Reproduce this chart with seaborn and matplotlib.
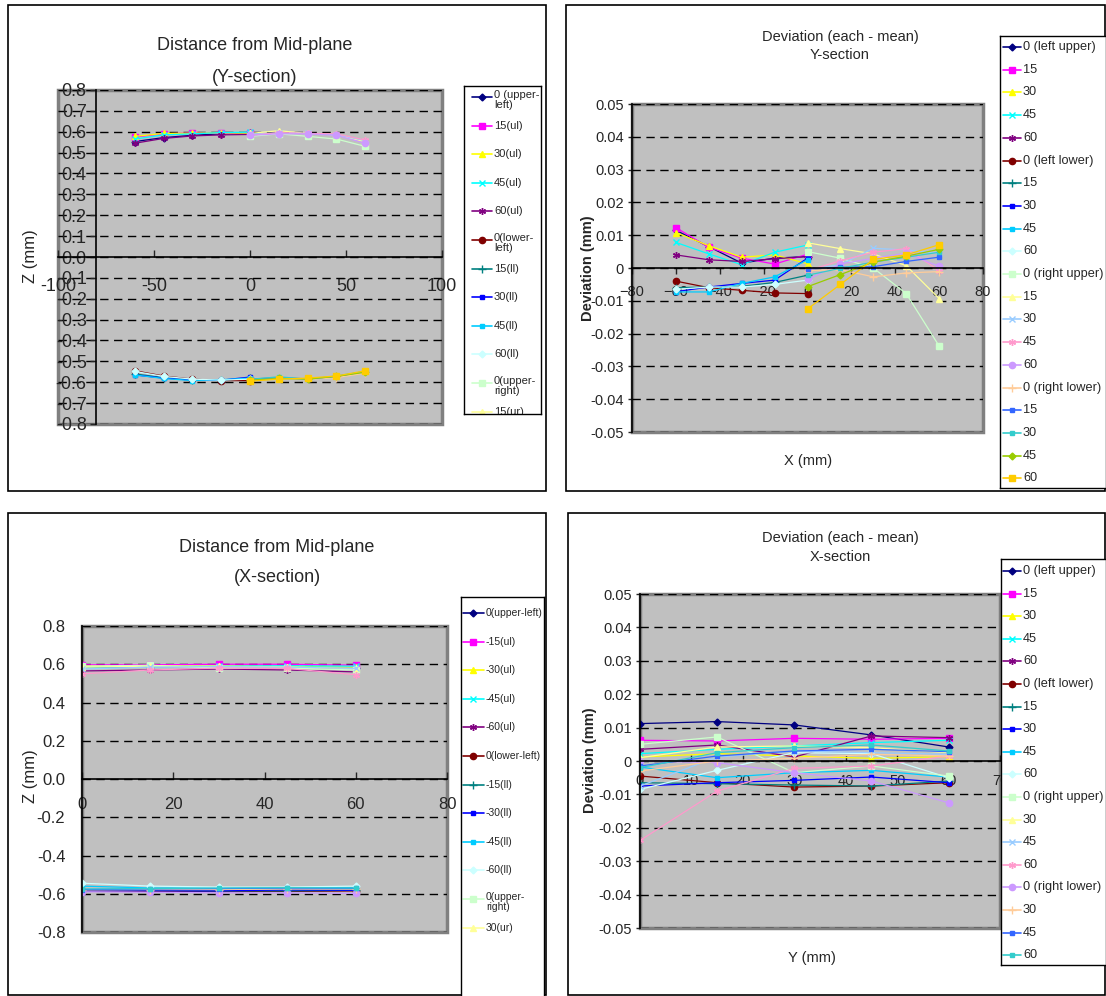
import matplotlib
matplotlib.use("Agg")
import matplotlib.pyplot as plt
from matplotlib.patches import Rectangle
from matplotlib.ticker import FuncFormatter
import seaborn as sns

sns.set_style("white")
plt.rcParams['font.family'] = ['Liberation Sans', 'DejaVu Sans']

W, H = 1106, 996

# excel default series colours / markers
PAL = ['#000080', '#FF00FF', '#FFFF00', '#00FFFF', '#800080', '#800000', '#008080',
       '#0000FF', '#00CCFF', '#CCFFFF', '#CCFFCC', '#FFFF99', '#99CCFF', '#FF99CC',
       '#CC99FF', '#FFCC99', '#3366FF', '#33CCCC', '#99CC00', '#FFCC00']
MARK = ['D', 's', '^', 'x', (6, 2, 0), 'o', '+', 's', 's', 'D',
        's', '^', 'x', (6, 2, 0), 'o', '+', 's', 's', 'D', 's']
MS = [3.5, 5, 5, 5, 5, 4.5, 6, 3, 3, 3.5, 5, 5, 5, 5, 4.5, 6, 3, 3, 3.5, 5]

# ---- Y-section : distance from mid-plane (mm)
X_LEFT = [-60, -45, -30, -15, 0]
X_RIGHT = [0, 15, 30, 45, 60]
dist_y_ul = [[0.553, 0.572, 0.583, 0.590, 0.594],
             [0.575, 0.590, 0.595, 0.592, 0.596],
             [0.578, 0.592, 0.593, 0.595, 0.593],
             [0.565, 0.585, 0.590, 0.596, 0.598],
             [0.545, 0.568, 0.580, 0.585, 0.587]]
dist_y_ll = [[-0.545, -0.570, -0.585, -0.592, -0.592],
             [-0.560, -0.578, -0.588, -0.590, -0.582],
             [-0.565, -0.580, -0.590, -0.590, -0.575],
             [-0.565, -0.582, -0.592, -0.588, -0.580],
             [-0.548, -0.572, -0.585, -0.590, -0.585]]
dist_y_ur = [[0.578, 0.590, 0.578, 0.565, 0.530],
             [0.592, 0.605, 0.592, 0.585, 0.552],
             [0.588, 0.595, 0.592, 0.585, 0.558],
             [0.583, 0.596, 0.592, 0.590, 0.560],
             [0.583, 0.590, 0.590, 0.583, 0.545]]
dist_y_lr = [[-0.585, -0.580, -0.585, -0.578, -0.556],
             [-0.585, -0.578, -0.584, -0.572, -0.548],
             [-0.586, -0.574, -0.585, -0.570, -0.548],
             [-0.590, -0.582, -0.585, -0.572, -0.552],
             [-0.595, -0.585, -0.580, -0.570, -0.545]]

# ---- Y-section : deviation (each - mean)
dev_y_lu = [[0.0115, 0.0065, 0.0015, 0.0030, 0.0035],
            [0.0123, 0.0063, 0.0030, 0.0012, 0.0042],
            [0.0108, 0.0068, 0.0033, 0.0040, 0.0013],
            [0.0078, 0.0043, 0.0010, 0.0048, 0.0070],
            [0.0040, 0.0025, 0.0020, 0.0028, 0.0035]]
dev_y_ll = [[-0.0040, -0.0060, -0.0068, -0.0076, -0.0078],
            [-0.0060, -0.0058, -0.0056, -0.0044, -0.0022],
            [-0.0072, -0.0058, -0.0047, -0.0037, 0.0030],
            [-0.0073, -0.0073, -0.0047, -0.0027, 0.0025],
            [-0.0065, -0.0058, -0.0058, -0.0050, -0.0037]]
dev_y_ru = [[0.0050, 0.0030, 0.0000, -0.0078, -0.0238],
            [0.0077, 0.0059, 0.0043, 0.0007, -0.0093],
            [-0.0005, 0.0010, 0.0060, 0.0055, 0.0045],
            [-0.0008, 0.0022, 0.0048, 0.0059, -0.0008],
            [-0.0035, 0.0012, 0.0030, 0.0045, 0.0005]]
dev_y_rl = [[-0.0008, -0.0005, -0.0027, -0.0015, -0.0011],
            [-0.0003, 0.0002, 0.0004, 0.0020, 0.0033],
            [-0.0022, -0.0001, 0.0018, 0.0033, 0.0048],
            [-0.0057, -0.0020, 0.0018, 0.0036, 0.0057],
            [-0.0125, -0.0050, 0.0026, 0.0040, 0.0071]]

# ---- X-section : distance from mid-plane (mm)
X_SEC = [0, 15, 30, 45, 60]
dist_x_ul = [[0.585, 0.588, 0.590, 0.585, 0.580],
             [0.597, 0.597, 0.600, 0.600, 0.595],
             [0.590, 0.590, 0.592, 0.588, 0.585],
             [0.585, 0.588, 0.590, 0.592, 0.590],
             [0.565, 0.570, 0.575, 0.570, 0.560]]
dist_x_ll = [[-0.585, -0.588, -0.590, -0.588, -0.585],
             [-0.580, -0.582, -0.585, -0.585, -0.582],
             [-0.585, -0.585, -0.585, -0.580, -0.582],
             [-0.560, -0.570, -0.570, -0.570, -0.568],
             [-0.545, -0.560, -0.565, -0.565, -0.560]]
dist_x_ur = [[0.590, 0.595, 0.580, 0.580, 0.570],
             [0.585, 0.590, 0.590, 0.585, 0.578],
             [0.575, 0.585, 0.588, 0.585, 0.578],
             [0.550, 0.570, 0.580, 0.578, 0.545]]
dist_x_lr = [[-0.590, -0.592, -0.595, -0.595, -0.598],
             [-0.580, -0.578, -0.578, -0.575, -0.575],
             [-0.578, -0.575, -0.573, -0.570, -0.572],
             [-0.575, -0.573, -0.570, -0.568, -0.570]]

# ---- X-section : deviation (each - mean)
dev_x_lu = [[0.0112, 0.0118, 0.0108, 0.0078, 0.0042],
            [0.0062, 0.0060, 0.0068, 0.0065, 0.0068],
            [0.0012, 0.0022, 0.0015, 0.0008, 0.0013],
            [0.0022, 0.0035, 0.0045, 0.0055, 0.0062],
            [0.0035, 0.0048, 0.0012, 0.0075, 0.0070]]
dev_x_ll = [[-0.0045, -0.0065, -0.0078, -0.0075, -0.0065],
            [-0.0065, -0.0068, -0.0072, -0.0075, -0.0060],
            [-0.0075, -0.0065, -0.0058, -0.0048, -0.0065],
            [-0.0018, -0.0050, -0.0035, -0.0028, -0.0048],
            [-0.0085, -0.0028, 0.0025, 0.0022, -0.0050]]
dev_x_ru = [[0.0050, 0.0072, -0.0035, -0.0015, -0.0045],
            [0.0010, 0.0042, 0.0045, 0.0040, 0.0025],
            [-0.0075, 0.0012, 0.0030, 0.0025, 0.0020],
            [-0.0238, -0.0090, -0.0022, -0.0015, 0.0015]]
dev_x_rl = [[0.0000, -0.0005, -0.0035, -0.0060, -0.0125],
            [-0.0030, 0.0000, 0.0008, 0.0020, 0.0015],
            [-0.0015, 0.0015, 0.0030, 0.0035, 0.0028],
            [-0.0020, 0.0025, 0.0040, 0.0048, 0.0030]]

leg1 = ["0 (upper-\nleft)", "15(ul)", "30(ul)", "45(ul)", "60(ul)",
        "0(lower-\nleft)", "15(ll)", "30(ll)", "45(ll)", "60(ll)",
        "0(upper-\nright)", "15(ur)"]
leg2 = ["0 (left upper)", "15", "30", "45", "60", "0 (left lower)", "15", "30", "45", "60",
        "0 (right upper)", "15", "30", "45", "60", "0 (right lower)", "15", "30", "45", "60"]
leg3 = ["0(upper-left)", "-15(ul)", "-30(ul)", "-45(ul)", "-60(ul)",
        "0(lower-left)", "-15(ll)", "-30(ll)", "-45(ll)", "-60(ll)",
        "0(upper-\nright)", "30(ur)"]
leg4 = ["0 (left upper)", "15", "30", "45", "60", "0 (left lower)", "15", "30", "45", "60",
        "0 (right upper)", "30", "45", "60", "0 (right lower)", "30", "45", "60"]


def px(x0, y0, x1, y1):
    return [x0 / W, 1 - y1 / H, (x1 - x0) / W, (y1 - y0) / H]


def ftext(x, y, s, **kw):
    fig.text(x / W, 1 - y / H, s, ha='center', va='center', **kw)


def frame(x0, y0, x1, y1):
    fig.add_artist(Rectangle((x0 / W, 1 - y1 / H), (x1 - x0) / W, (y1 - y0) / H,
                             transform=fig.transFigure, fill=False, ec='black', lw=1.2))


def series(ax, xs, ys, k):
    sns.lineplot(x=xs, y=ys, ax=ax, color=PAL[k], marker=MARK[k], markersize=MS[k],
                 markeredgecolor=PAL[k], markeredgewidth=1, linewidth=0.9,
                 legend=False, sort=False, errorbar=None)


def gray_axes(rect, xlim, ylim):
    ax = fig.add_axes(px(*rect))
    ax.set_facecolor('#C0C0C0')
    ax.set_xlim(*xlim)
    ax.set_ylim(*ylim)
    ax.spines['top'].set_visible(False)
    ax.spines['right'].set_visible(False)
    ax.spines['bottom'].set_position(('data', 0))
    for s in ('left', 'bottom'):
        ax.spines[s].set_color('black')
        ax.spines[s].set_linewidth(1.2)
    ax.add_patch(Rectangle((0, 0), 1, 1, transform=ax.transAxes, fill=False,
                           ec='#808080', lw=2.5, clip_on=False, zorder=0.5))
    ax.grid(axis='y', color='black', linestyle=(0, (6, 4)), linewidth=1)
    ax.grid(axis='x', visible=False)
    ax.set_axisbelow(True)
    ax.set_xlabel('')
    ax.set_ylabel('')
    return ax


def legend_box(box, labels, idxs, first, step, lx, tx, fs):
    x0, y0, x1, y1 = box
    lax = fig.add_axes(px(*box), zorder=10)
    lax.set_xlim(x0, x1)
    lax.set_ylim(y1, y0)
    lax.set_xticks([])
    lax.set_yticks([])
    lax.set_facecolor('white')
    for s in lax.spines.values():
        s.set_color('black')
        s.set_linewidth(1)
    for i, (lab, k) in enumerate(zip(labels, idxs)):
        y = first + i * step
        lax.plot(lx, [y, y], color=PAL[k], lw=1.2)
        lax.plot([(lx[0] + lx[1]) / 2], [y], marker=MARK[k], ms=MS[k], color=PAL[k],
                 mec=PAL[k], ls='none')
        if '\n' in lab:
            lax.text(tx, y - 7, lab, va='top', ha='left', fontsize=fs, linespacing=1.0,
                     clip_on=True)
        else:
            lax.text(tx, y, lab, va='center', ha='left', fontsize=fs, clip_on=True)


fig = plt.figure(figsize=(W / 100, H / 100), dpi=100)

frame(8, 5, 546, 491)
frame(566, 5, 1105, 491)
frame(8, 513, 546, 995)
frame(568, 513, 1105, 995)

# ---------------- panel 1
ax1 = gray_axes((58, 90, 442, 424), (-100, 100), (-0.8, 0.8))
ax1.spines['left'].set_position(('data', -80))
for grp, xs, k0 in ((dist_y_ul, X_LEFT, 0), (dist_y_ll, X_LEFT, 5),
                    (dist_y_ur, X_RIGHT, 10), (dist_y_lr, X_RIGHT, 15)):
    for j, ys in enumerate(grp):
        series(ax1, xs, ys, k0 + j)
ax1.set_xticks([-100, -50, 0, 50, 100])
ax1.set_xticklabels(['-100', '-50', '0', '50', '100'])
ax1.set_yticks([i / 10 for i in range(-8, 9)])
ax1.yaxis.set_major_formatter(FuncFormatter(lambda v, p: f'{v:.1f}'))
ax1.tick_params(axis='x', direction='in', length=5, width=1, pad=15, labelsize=13,
                bottom=True)
ax1.tick_params(axis='y', direction='out', length=4, width=1, pad=3, labelsize=13,
                left=True)
ax1.set_xlim(-100, 100)
ax1.set_ylim(-0.8, 0.8)
ftext(255, 45, "Distance from Mid-plane", fontsize=13)
ftext(255, 77, "(Y-section)", fontsize=13)
ftext(30, 256, "Z (mm)", fontsize=12, rotation=90)
legend_box((464, 86, 541, 414), leg1, list(range(12)), 97, 28.6, [472, 492], 494, 8)

# ---------------- panel 2
ax2 = gray_axes((632, 104, 983, 432), (-80, 80), (-0.05, 0.05))
for grp, xs, k0 in ((dev_y_lu, X_LEFT, 0), (dev_y_ll, X_LEFT, 5),
                    (dev_y_ru, X_RIGHT, 10), (dev_y_rl, X_RIGHT, 15)):
    for j, ys in enumerate(grp):
        series(ax2, xs, ys, k0 + j)
ax2.set_xticks(range(-80, 81, 20))
ax2.set_yticks([i / 100 for i in range(-5, 6)])
ax2.yaxis.set_major_formatter(FuncFormatter(lambda v, p: '0' if abs(v) < 1e-9 else f'{v:.2f}'))
ax2.tick_params(axis='x', direction='out', length=4, width=1, pad=8, labelsize=10.5,
                bottom=True)
ax2.tick_params(axis='y', direction='out', length=3, width=1, pad=3, labelsize=10.5,
                left=True)
ax2.set_xlim(-80, 80)
ax2.set_ylim(-0.05, 0.05)
ftext(840, 37, "Deviation (each - mean)", fontsize=10.5)
ftext(840, 55, "Y-section", fontsize=10.5)
ftext(808, 461, "X (mm)", fontsize=10.5)
ftext(588, 268, "Deviation (mm)", fontsize=10.5, rotation=90, fontweight='bold')
legend_box((1000, 36, 1106, 488), leg2, list(range(20)), 47, 22.7, [1003, 1021], 1023, 9.2)

# ---------------- panel 3
ax3 = gray_axes((82, 626, 447, 932), (0, 80), (-0.8, 0.8))
for grp, k0 in ((dist_x_ul, 0), (dist_x_ll, 5), (dist_x_ur, 10), (dist_x_lr, 14)):
    for j, ys in enumerate(grp):
        series(ax3, X_SEC, ys, k0 + j)
ax3.set_xticks(range(0, 81, 20))
ax3.set_yticks([i / 10 for i in range(-8, 9, 2)])
ax3.yaxis.set_major_formatter(FuncFormatter(lambda v, p: f'{v:.1f}'))
ax3.tick_params(axis='x', direction='in', length=5, width=1, pad=13, labelsize=12,
                bottom=True)
ax3.tick_params(axis='y', length=0, pad=12, labelsize=12)
ax3.set_xlim(0, 80)
ax3.set_ylim(-0.8, 0.8)
ftext(277, 548, "Distance from Mid-plane", fontsize=13)
ftext(277, 578, "(X-section)", fontsize=13)
ftext(30, 776, "Z (mm)", fontsize=12, rotation=90)
legend_box((461, 597, 544, 1000), leg3, list(range(12)), 613, 28.6, [463, 484], 486, 7.5)

# ---------------- panel 4
ax4 = gray_axes((640, 594, 1000, 928), (0, 70), (-0.05, 0.05))
for grp, k0 in ((dev_x_lu, 0), (dev_x_ll, 5), (dev_x_ru, 10), (dev_x_rl, 14)):
    for j, ys in enumerate(grp):
        series(ax4, X_SEC, ys, k0 + j)
ax4.set_xticks(range(0, 71, 10))
ax4.set_yticks([i / 100 for i in range(-5, 6)])
ax4.yaxis.set_major_formatter(FuncFormatter(lambda v, p: '0' if abs(v) < 1e-9 else f'{v:.2f}'))
ax4.tick_params(axis='x', direction='in', length=4, width=1, pad=9, labelsize=10.5,
                bottom=True)
ax4.tick_params(axis='y', direction='out', length=3, width=1, pad=3, labelsize=10.5,
                left=True)
ax4.set_xlim(0, 70)
ax4.set_ylim(-0.05, 0.05)
ftext(840, 538, "Deviation (each - mean)", fontsize=10.5)
ftext(840, 557, "X-section", fontsize=10.5)
ftext(812, 958, "Y (mm)", fontsize=10.5)
ftext(590, 760, "Deviation (mm)", fontsize=10.5, rotation=90, fontweight='bold')
legend_box((1001, 559, 1106, 965), leg4, list(range(18)), 571, 22.6, [1003, 1021], 1023, 9.2)

fig.savefig("out.png", dpi=100)
